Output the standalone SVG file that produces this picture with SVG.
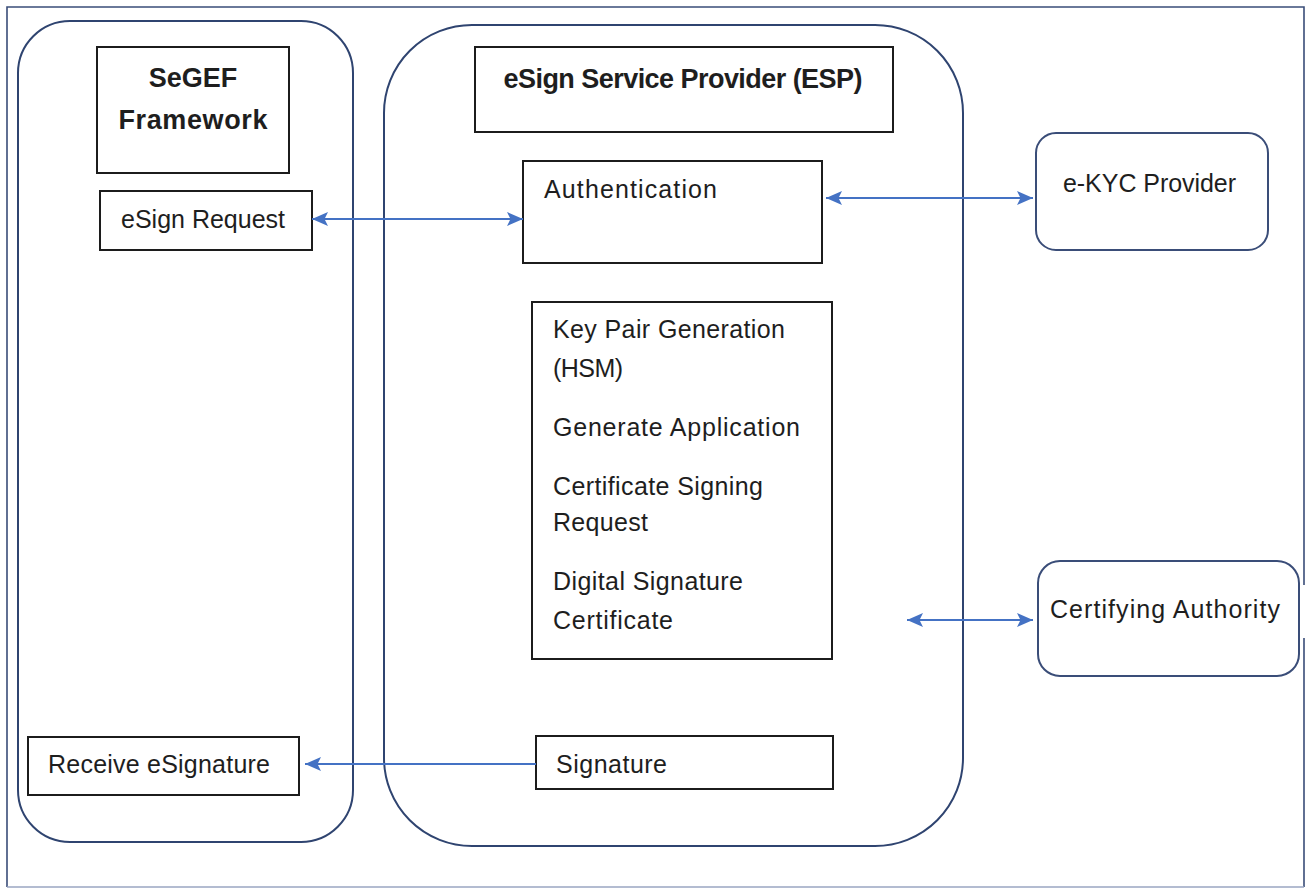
<svg xmlns="http://www.w3.org/2000/svg" width="1308" height="888" viewBox="0 0 1308 888">
<style>
.frame{fill:none;stroke:#3a4d78;stroke-width:1.6}
.cont{fill:none;stroke:#2f4470;stroke-width:2}
.box{fill:#fff;stroke:#1c1c1c;stroke-width:2}
.rbox{fill:#fff;stroke:#3a4d78;stroke-width:2}
.t{font-family:"Liberation Sans",Arial,sans-serif;font-size:25px;fill:#1e1e1e}
.tb{font-family:"Liberation Sans",Arial,sans-serif;font-size:27px;font-weight:bold;fill:#1e1e1e}
.conn{fill:none;stroke:#4472c4;stroke-width:2.2}
</style>
<defs>
<marker id="arr" markerUnits="userSpaceOnUse" markerWidth="18" markerHeight="16" refX="16" refY="7" orient="auto-start-reverse">
<path d="M0,0 L16,7 L0,14 L3.5,7 z" fill="#4472c4"/>
</marker>
</defs>
<rect width="1308" height="888" fill="#fff"/>
<g id="frame">
<path class="frame" d="M7,887 L7,7 L1304,7 L1304,585 M1304,638 L1304,887"/>
<path d="M7,887 L1304,887" fill="none" stroke="#9aa6c2" stroke-width="1.6"/>
</g>
<g id="segef-container"><rect class="cont" x="18" y="21" width="335" height="821" rx="52" ry="52"/></g>
<g id="esp-container"><rect class="cont" x="384" y="25" width="579" height="821" rx="88" ry="88"/></g>
<g id="segef-title">
<rect class="box" x="97" y="47" width="192" height="126"/>
<text class="tb" x="193" y="87" text-anchor="middle">SeGEF</text>
<text class="tb" x="193" y="129" text-anchor="middle" textLength="149">Framework</text>
</g>
<g id="esign-request">
<rect class="box" x="100" y="191" width="212" height="59"/>
<text class="t" x="121" y="228" textLength="164">eSign Request</text>
</g>
<g id="receive-esignature">
<rect class="box" x="28" y="737" width="271" height="58"/>
<text class="t" x="48" y="773" textLength="222">Receive eSignature</text>
</g>
<g id="esp-title">
<rect class="box" x="475" y="47" width="418" height="85"/>
<text class="tb" x="683" y="88" text-anchor="middle" textLength="359">eSign Service Provider (ESP)</text>
</g>
<g id="authentication">
<rect class="box" x="523" y="161" width="299" height="102"/>
<text class="t" x="544" y="198" textLength="173">Authentication</text>
</g>
<g id="key-generation">
<rect class="box" x="532" y="302" width="300" height="357"/>
<text class="t" x="553" y="338" textLength="232">Key Pair Generation</text>
<text class="t" x="553" y="377" textLength="70">(HSM)</text>
<text class="t" x="553" y="436" textLength="247">Generate Application</text>
<text class="t" x="553" y="495" textLength="210">Certificate Signing</text>
<text class="t" x="553" y="531" textLength="95">Request</text>
<text class="t" x="553" y="590" textLength="190">Digital Signature</text>
<text class="t" x="553" y="629" textLength="120">Certificate</text>
</g>
<g id="signature">
<rect class="box" x="536" y="736" width="297" height="53"/>
<text class="t" x="556" y="773" textLength="111">Signature</text>
</g>
<g id="ekyc-provider">
<rect class="rbox" x="1036" y="133" width="232" height="117" rx="20" ry="20"/>
<text class="t" x="1063" y="192" textLength="173">e-KYC Provider</text>
</g>
<g id="certifying-authority">
<rect class="rbox" x="1038" y="561" width="261" height="115" rx="22" ry="22"/>
<text class="t" x="1050" y="618" textLength="230">Certifying Authority</text>
</g>
<g id="connectors">
<line class="conn" x1="312" y1="219" x2="523" y2="219" marker-start="url(#arr)" marker-end="url(#arr)"/>
<line class="conn" x1="826" y1="198" x2="1033" y2="198" marker-start="url(#arr)" marker-end="url(#arr)"/>
<line class="conn" x1="907" y1="620" x2="1033" y2="620" marker-start="url(#arr)" marker-end="url(#arr)"/>
<line class="conn" x1="536" y1="764" x2="305" y2="764" marker-end="url(#arr)"/>
</g>
</svg>
